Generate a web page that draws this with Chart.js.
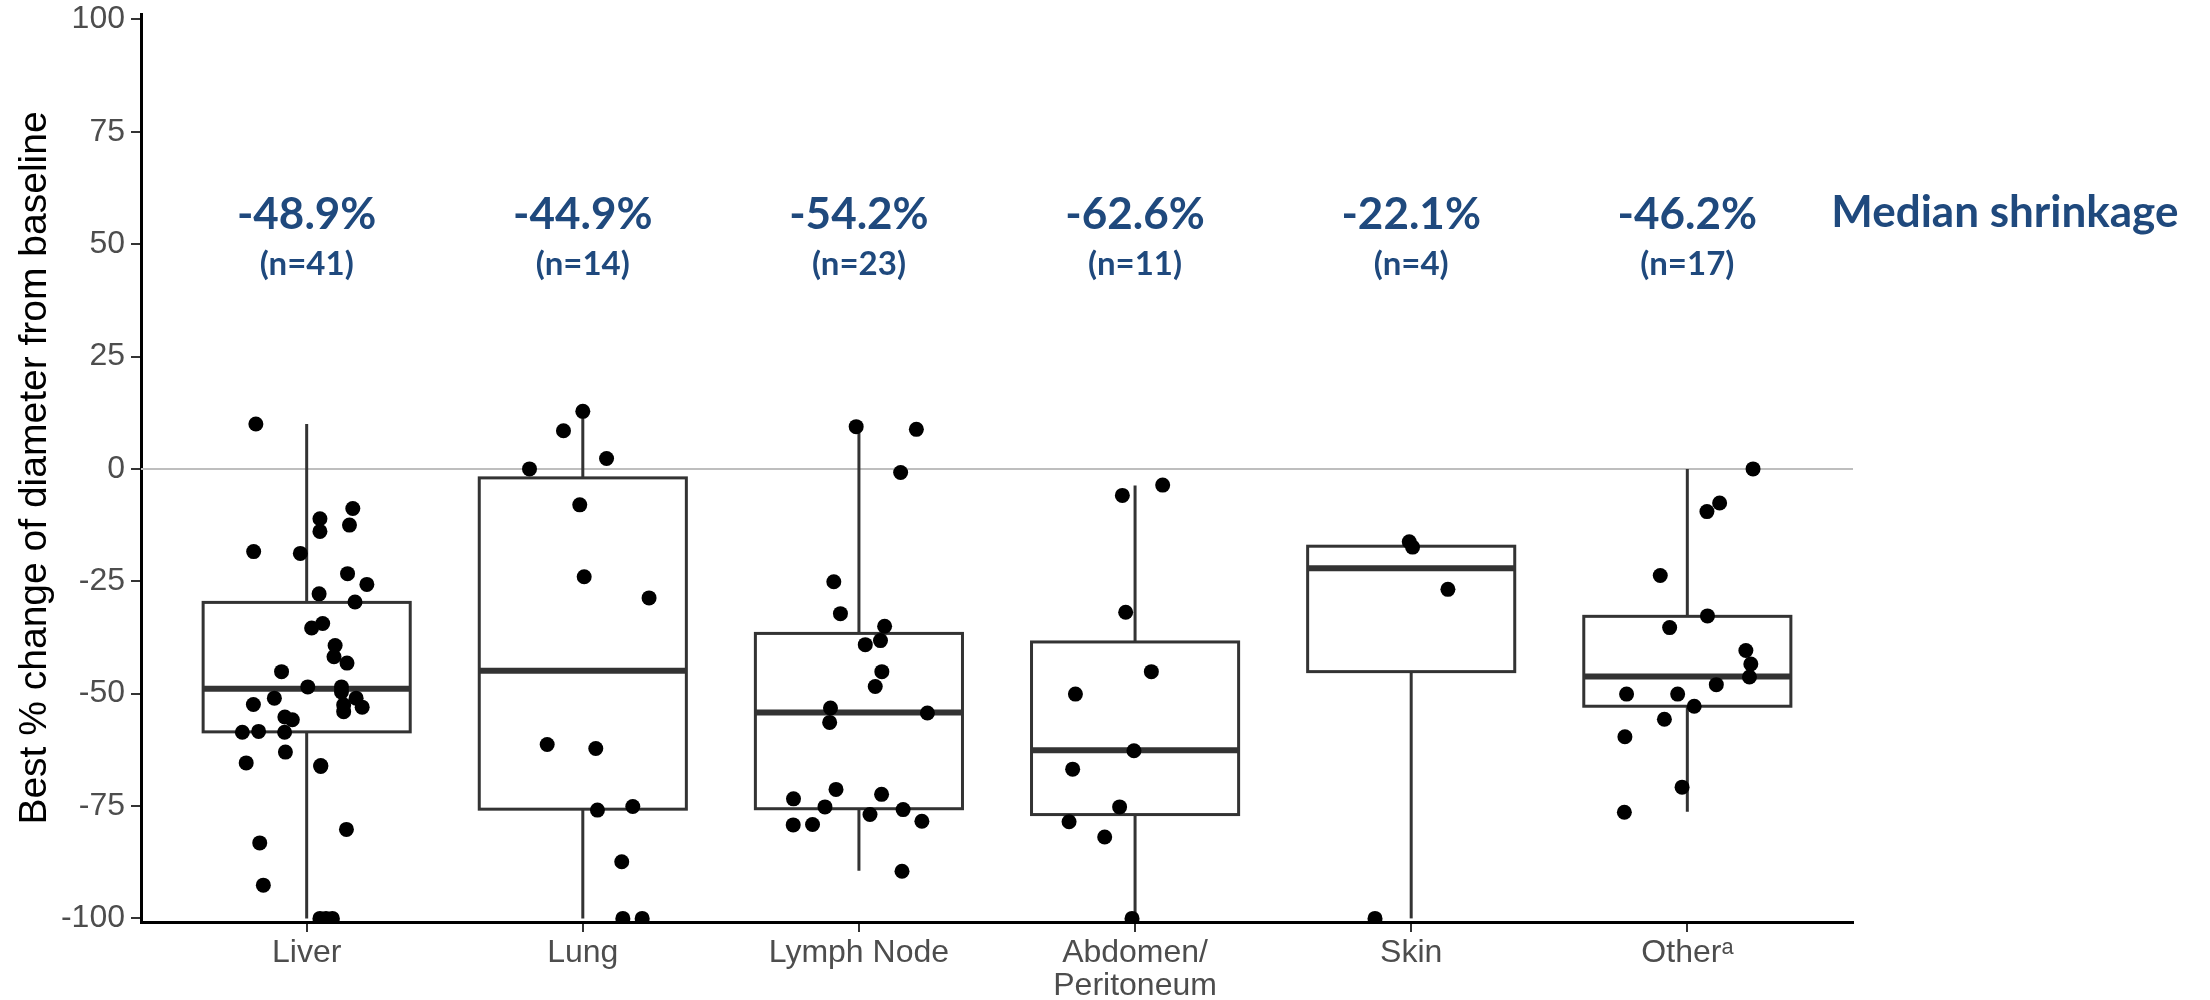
<!DOCTYPE html>
<html>
<head>
<meta charset="utf-8">
<script src="https://cdn.jsdelivr.net/npm/chart.js@4.4.1/dist/chart.umd.min.js"></script>
<style>
  html, body { margin: 0; padding: 0; background: #fff; }
  #wrap { width: 2210px; height: 1000px; }
</style>
</head>
<body>
<div id="wrap"><canvas id="chart"></canvas></div>
<script>
// categories and labels
const categories = ['Liver', 'Lung', 'Lymph Node', 'Abdomen/Peritoneum', 'Skin', 'Otherᵃ'];
const xTickLabels = [['Liver'], ['Lung'], ['Lymph Node'], ['Abdomen/', 'Peritoneum'], ['Skin'], ['Otherᵃ']];
const medianText = ['-48.9%', '-44.9%', '-54.2%', '-62.6%', '-22.1%', '-46.2%'];
const nText = ['(n=41)', '(n=14)', '(n=23)', '(n=11)', '(n=4)', '(n=17)'];
const yTicks = [-100, -75, -50, -25, 0, 25, 50, 75, 100];

// box stats
const whiskerLow = [-100, -100, -89.4, -100, -100, -76.3];
const q1 = [-58.5, -75.7, -75.6, -76.9, -45.1, -52.8];
const medians = [-48.9, -44.9, -54.2, -62.6, -22.1, -46.2];
const q3 = [-29.7, -2.0, -36.6, -38.5, -17.2, -32.8];
const whiskerHigh = [10.0, 12.8, 9.4, -3.7, -17.2, 0.0];

// individual lesions (value, horizontal jitter in category units)
const liverVals = [10.0, -8.8, -11.1, -12.5, -13.9, -18.4, -18.8, -23.3, -25.7, -27.8, -29.6, -34.4, -35.4, -39.3, -41.8,
  -43.2, -45.1, -48.5, -48.5, -49.6, -51.0, -51.0, -52.4, -52.5, -53.0, -54.0, -55.2, -55.8, -58.6, -58.4, -58.6,
  -63.0, -65.4, -66.2, -80.2, -83.2, -92.6, -100, -100, -100, -66.0];
const liverJit = [-0.184, 0.167, 0.048, 0.155, 0.048, -0.192, -0.023, 0.148, 0.218, 0.045, 0.175, 0.058, 0.018, 0.103, 0.099,
  0.146, -0.091, 0.004, 0.126, 0.126, -0.117, 0.179, -0.193, 0.134, 0.201, 0.134, -0.079, -0.052, -0.233, -0.174, -0.080,
  -0.077, -0.219, 0.051, 0.144, -0.170, -0.157, 0.048, 0.093, 0.070, 0.051];
const lungVals = [12.8, 8.5, 2.3, 0.0, -8.0, -24.0, -28.7, -61.3, -62.2, -75.9, -75.1, -87.4, -100, -100];
const lungJit = [0, -0.070, 0.086, -0.193, -0.011, 0.005, 0.240, -0.129, 0.047, 0.053, 0.181, 0.141, 0.145, 0.215];
const lymphVals = [9.4, 8.8, -0.8, -25.1, -32.2, -35.0, -39.1, -38.2, -45.1, -48.4, -53.2, -56.4, -54.3, -71.3, -73.4,
  -72.4, -75.2, -75.8, -76.9, -79.2, -79.1, -78.4, -89.5];
const lymphJit = [-0.010, 0.208, 0.151, -0.091, -0.067, 0.093, 0.023, 0.078, 0.083, 0.059, -0.103, -0.106, 0.248, -0.083, -0.237,
  0.082, -0.123, 0.160, 0.040, -0.238, -0.168, 0.228, 0.156];
const abdVals = [-3.6, -5.9, -31.9, -45.1, -50.1, -62.7, -66.8, -75.2, -78.5, -81.9, -100];
const abdJit = [0.100, -0.046, -0.034, 0.059, -0.216, -0.004, -0.226, -0.056, -0.239, -0.110, -0.011];
const skinVals = [-16.2, -17.4, -26.8, -100];
const skinJit = [-0.007, 0.005, 0.133, -0.131];
const otherVals = [0.0, -7.6, -9.5, -23.7, -32.7, -35.3, -40.4, -43.4, -46.3, -48.0, -50.1, -50.1, -52.8, -55.7, -59.6, -70.8, -76.4];
const otherJit = [0.238, 0.117, 0.071, -0.098, 0.073, -0.064, 0.212, 0.230, 0.225, 0.105, -0.220, -0.035, 0.025, -0.083, -0.226, -0.019, -0.228];

const allVals = [liverVals, lungVals, lymphVals, abdVals, skinVals, otherVals];
const allJit = [liverJit, lungJit, lymphJit, abdJit, skinJit, otherJit];

const blue = '#1F497D';
const boxColor = '#333333';

const points = [];
allVals.forEach((vals, i) => {
  vals.forEach((v, j) => points.push({ x: i + 1 + allJit[i][j], y: v }));
});

// boxes, whiskers, medians and the zero line, drawn under the points
const boxPlugin = {
  id: 'boxes',
  beforeDatasetsDraw(chart) {
    const { ctx, chartArea, scales: { x, y } } = chart;
    ctx.save();
    // zero reference line
    ctx.strokeStyle = '#BEBEBE';
    ctx.lineWidth = 2;
    ctx.beginPath();
    ctx.moveTo(chartArea.left, y.getPixelForValue(0));
    ctx.lineTo(chartArea.right, y.getPixelForValue(0));
    ctx.stroke();

    const half = 0.375;
    categories.forEach((c, i) => {
      const cx = x.getPixelForValue(i + 1);
      const l = x.getPixelForValue(i + 1 - half);
      const r = x.getPixelForValue(i + 1 + half);
      const yq1 = y.getPixelForValue(q1[i]);
      const yq3 = y.getPixelForValue(q3[i]);
      ctx.strokeStyle = boxColor;
      ctx.lineWidth = 3;
      ctx.beginPath();
      ctx.moveTo(cx, y.getPixelForValue(whiskerHigh[i]));
      ctx.lineTo(cx, yq3);
      ctx.moveTo(cx, yq1);
      ctx.lineTo(cx, y.getPixelForValue(whiskerLow[i]));
      ctx.stroke();
      ctx.fillStyle = '#fff';
      ctx.fillRect(l, yq3, r - l, yq1 - yq3);
      ctx.strokeRect(l, yq3, r - l, yq1 - yq3);
      ctx.lineWidth = 6;
      ctx.beginPath();
      ctx.moveTo(l, y.getPixelForValue(medians[i]));
      ctx.lineTo(r, y.getPixelForValue(medians[i]));
      ctx.stroke();
    });
    ctx.restore();
  },
  afterDraw(chart) {
    const { ctx, scales: { x, y } } = chart;
    ctx.save();
    ctx.fillStyle = blue;
    ctx.textAlign = 'center';
    ctx.textBaseline = 'middle';
    categories.forEach((c, i) => {
      const cx = x.getPixelForValue(i + 1);
      ctx.font = 'bold 44px Lato';
      ctx.fillText(medianText[i], cx, y.getPixelForValue(56.5));
      ctx.font = 'bold 33px Lato';
      ctx.fillText(nText[i], cx, y.getPixelForValue(45.5));
    });
    ctx.font = 'bold 44px Lato';
    ctx.fillText('Median shrinkage', x.getPixelForValue(7.15), y.getPixelForValue(57));
    ctx.restore();
  }
};

new Chart(document.getElementById('chart'), {
  type: 'scatter',
  data: {
    datasets: [{
      data: points,
      backgroundColor: '#000',
      borderWidth: 0,
      pointRadius: 7.5,
      pointHoverRadius: 7.5
    }]
  },
  options: {
    responsive: true,
    maintainAspectRatio: false,
    animation: false,
    layout: { padding: { top: 14, right: 357, left: 0, bottom: 0 } },
    plugins: { legend: { display: false }, tooltip: { enabled: false } },
    scales: {
      x: {
        type: 'linear',
        min: 0.4,
        max: 6.6,
        afterBuildTicks: (scale) => { scale.ticks = categories.map((c, i) => ({ value: i + 1 })); },
        afterFit: (scale) => { scale.height = 78; },
        ticks: {
          autoSkip: false,
          maxRotation: 0,
          padding: 4,
          color: '#4D4D4D',
          font: { family: 'Liberation Sans', size: 32, lineHeight: 1.05 },
          callback: (v) => xTickLabels[Math.round(v) - 1]
        },
        grid: { drawOnChartArea: false, drawTicks: true, tickLength: 10, color: '#333', lineWidth: 2 },
        border: { display: true, color: '#000', width: 3 }
      },
      y: {
        min: -100.8,
        max: 101.2,
        afterBuildTicks: (scale) => { scale.ticks = yTicks.map(v => ({ value: v })); },
        afterFit: (scale) => { scale.width = 141; scale.paddingTop = 0; scale.paddingBottom = 0; },
        ticks: {
          padding: 6,
          color: '#4D4D4D',
          font: { family: 'Liberation Sans', size: 32 }
        },
        title: {
          display: true,
          text: 'Best % change of diameter from baseline',
          color: '#000',
          font: { family: 'Liberation Sans', size: 39 },
          padding: { top: 12, bottom: 0 }
        },
        grid: { drawOnChartArea: false, drawTicks: true, tickLength: 10, color: '#333', lineWidth: 2 },
        border: { display: true, color: '#000', width: 3 }
      }
    }
  },
  plugins: [boxPlugin]
});
</script>
</body>
</html>
